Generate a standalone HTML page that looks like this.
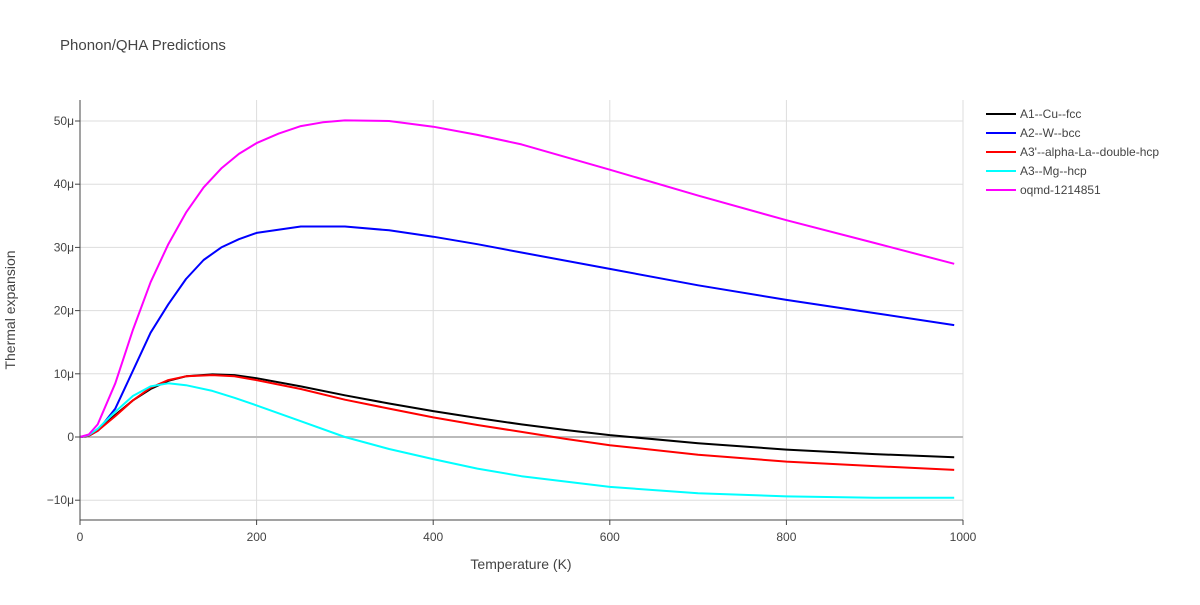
<!DOCTYPE html>
<html><head><meta charset="utf-8"><style>
body{margin:0;background:#fff;font-family:"Liberation Sans",Arial,sans-serif;}
svg text{font-family:"Liberation Sans",Arial,sans-serif;fill:#444;}
</style></head><body>
<svg id="chart" width="1200" height="600">
<rect width="1200" height="600" fill="#fff"/>
<text x="60" y="50" font-size="15">Phonon/QHA Predictions</text>
<g id="grid"></g><g id="series"></g><g id="axes"></g><g id="legend"></g>
<text x="521" y="569" font-size="14" text-anchor="middle">Temperature (K)</text>
<text transform="translate(15,310) rotate(-90)" font-size="14" text-anchor="middle">Thermal expansion</text>
</svg>
<script>
const seriesNames=["A1--Cu--fcc","A2--W--bcc","A3'--alpha-La--double-hcp","A3--Mg--hcp","oqmd-1214851"];
const seriesColors=["#000000","#0000ff","#ff0000","#00ffff","#ff00ff"];
const cuT=[0,10,20,40,60,80,100,120,150,175,200,250,300,350,400,450,500,550,600,700,800,900,990];
const cuV=[0,0.2,1,3.5,5.8,7.6,8.9,9.6,9.9,9.8,9.3,8.0,6.6,5.3,4.1,3.0,2.0,1.1,0.3,-1.0,-2.0,-2.7,-3.2];
const wT=[0,10,20,40,60,80,100,120,140,160,180,200,250,300,350,400,450,500,600,700,800,900,990];
const wV=[0,0.2,1,4.5,10.5,16.5,21,25,28,30,31.3,32.3,33.3,33.3,32.7,31.7,30.5,29.2,26.6,24.0,21.7,19.6,17.7];
const laT=[0,10,20,40,60,80,100,120,150,175,200,250,300,350,400,450,500,550,600,700,800,900,990];
const laV=[0,0.2,1,3.3,5.8,7.8,9.0,9.6,9.8,9.6,9.0,7.6,5.9,4.5,3.1,1.9,0.8,-0.3,-1.3,-2.8,-3.9,-4.6,-5.2];
const mgT=[0,10,20,40,60,80,100,120,150,175,200,250,300,350,400,450,500,600,700,800,900,990];
const mgV=[0,0.3,1.3,4,6.5,8.0,8.5,8.2,7.3,6.2,5.0,2.5,0,-1.9,-3.5,-5,-6.2,-7.9,-8.9,-9.4,-9.6,-9.6];
const oqT=[0,10,20,40,60,80,100,120,140,160,180,200,225,250,275,300,350,400,450,500,600,700,800,900,990];
const oqV=[0,0.4,2,8.5,17,24.5,30.5,35.5,39.5,42.5,44.8,46.5,48.0,49.2,49.8,50.1,50,49.1,47.8,46.3,42.3,38.2,34.3,30.7,27.4];
const xTicks=[0,200,400,600,800,1000];
const yTicks=[-10,0,10,20,30,40,50];
const yTickLabels=["−10μ","0","10μ","20μ","30μ","40μ","50μ"];
const X0=80,X1=963,YT=100,YB=520;
function sx(t){return X0+(X1-X0)*t/1000;}
function sy(v){return 437-v*6.32;}
const NS="http://www.w3.org/2000/svg";
function mk(tag,attrs,parent){const e=document.createElementNS(NS,tag);for(const k in attrs)e.setAttribute(k,attrs[k]);parent.appendChild(e);return e;}
const grid=document.getElementById('grid'),axes=document.getElementById('axes'),ser=document.getElementById('series'),leg=document.getElementById('legend');
xTicks.forEach(t=>{
 if(t>0){const l=mk('line',{x1:sx(t),x2:sx(t),y1:YT,y2:YB,stroke:'#ddd'},grid);
 
 }
 const tx=mk('text',{x:sx(t),y:YB+21,'font-size':12,'text-anchor':'middle'},axes);tx.textContent=t;
 
 
 mk('line',{x1:sx(t),x2:sx(t),y1:YB,y2:YB+5,stroke:'#444'},axes);
});
yTicks.forEach((v,i)=>{
 const l=mk('line',{x1:X0,x2:X1,y1:sy(v),y2:sy(v),stroke:v===0?'#bbb':'#ddd','stroke-width':v===0?2:1},grid);
 
 
 const tx=mk('text',{x:X0-6,y:sy(v)+4,'font-size':12,'text-anchor':'end'},axes);tx.textContent=yTickLabels[i];
 
 
 mk('line',{x1:X0-5,x2:X0,y1:sy(v),y2:sy(v),stroke:'#444'},axes);
});
mk('line',{x1:X0,x2:X1,y1:YB,y2:YB,stroke:'#444'},axes);
mk('line',{x1:X0,x2:X0,y1:YT,y2:YB,stroke:'#444'},axes);
const data=[[cuT,cuV],[wT,wV],[laT,laV],[mgT,mgV],[oqT,oqV]];
data.forEach((d,i)=>{
 const pts=d[0].map((t,j)=>sx(t).toFixed(1)+','+sy(d[1][j]).toFixed(1)).join(' ');
 const p=mk('polyline',{points:pts,fill:'none',stroke:seriesColors[i],'stroke-width':2,'stroke-linejoin':'round'},ser);
 
 
 const y=114+i*19;
 const g=mk('g',{},leg);
 
 
 mk('line',{x1:986,x2:1016,y1:y,y2:y,stroke:seriesColors[i],'stroke-width':2},g);
 const tx=mk('text',{x:1020,y:y+4,'font-size':12},g);tx.textContent=seriesNames[i];
});
</script>
</body></html>
